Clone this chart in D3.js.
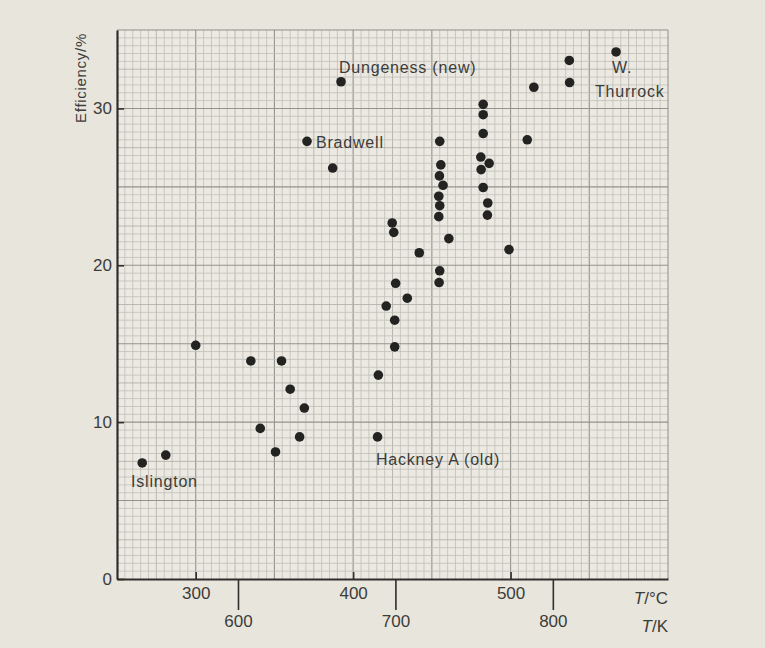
<!DOCTYPE html>
<html>
<head>
<meta charset="utf-8">
<script src="https://cdn.jsdelivr.net/npm/d3@7/dist/d3.min.js"></script>
<style>
  html, body { margin: 0; padding: 0; background: #e8e5dc; }
  svg { display: block; }
  text { font-family: "Liberation Sans", Arial, Helvetica, sans-serif; fill: #3c3c3a; }
</style>
</head>
<body>
<svg id="chart" width="765" height="648"></svg>
<script>
// Temperature (°C) of each power station
const tempC = [266, 281, 300, 335, 354.5, 341, 350.7, 360, 369, 366,
  415.5, 416, 421, 426.4, 426.4, 427, 434.4, 424.8, 425.8, 442,
  460.8, 455, 454.6, 370.7, 387, 392.3,
  455, 455.7, 454.8, 457.1, 454.4, 455, 454.4,
  482.6, 482.6, 482.6, 481.1, 486.4, 481.3, 482.6, 485.5, 485.3,
  499, 510.6, 514.8, 537.3, 537.5, 567];
// Efficiency (%)
const efficiency = [7.4, 7.9, 14.9, 13.9, 13.9, 9.6, 8.1, 12.1, 10.9, 9.06,
  9.06, 13.0, 17.4, 16.5, 14.8, 18.85, 17.9, 22.7, 22.1, 20.8,
  21.7, 19.65, 18.9, 27.9, 26.2, 31.7,
  27.9, 26.4, 25.7, 25.1, 24.4, 23.8, 23.1,
  30.26, 29.6, 28.4, 26.9, 26.5, 26.1, 24.96, 23.97, 23.2,
  21.0, 28.0, 31.35, 33.06, 31.65, 33.6];

// Station names written beside points (anchored in data units)
const labelText = ["Dungeness (new)", "Bradwell", "W.", "Thurrock", "Islington", "Hackney A (old)"];
const labelT = [391, 376.4, 564.4, 553.6, 258.9, 414.5];
const labelE = [32.6, 27.86, 32.6, 31.1, 6.25, 7.65];

const yTicks = [0, 10, 20, 30];
const cTicks = [300, 400, 500];
const kTicks = [600, 700, 800];

(function () {
const svg = d3.select("#chart");
const pL = 117, pR = 668, pT = 30, pB = 579;

const x = d3.scaleLinear().domain([250, 600]).range([pL, pR]);
const y = d3.scaleLinear().domain([0, 35]).range([pB, pT]);
const xK = d3.scaleLinear().domain([250 + 273.15, 600 + 273.15]).range([pL, pR]);

// graph paper
const g = svg.append("g");
g.append("rect").attr("x", pL).attr("y", pT).attr("width", pR - pL).attr("height", pB - pT)
  .attr("fill", "#ebe9e1");
const minorX = d3.range(255, 600, 5);
const minorY = d3.range(0.5, 35, 0.5);
g.selectAll(".mx").data(minorX).join("line")
  .attr("x1", d => x(d)).attr("x2", d => x(d)).attr("y1", pT).attr("y2", pB)
  .attr("stroke", d => d % 50 === 0 ? "#94938c" : (d % 25 === 0 ? "#adaca5" : "#c0bfb8"))
  .attr("stroke-width", d => d % 50 === 0 ? 1.1 : 0.8);
g.selectAll(".my").data(minorY).join("line")
  .attr("x1", pL).attr("x2", pR).attr("y1", d => y(d)).attr("y2", d => y(d))
  .attr("stroke", d => d % 5 === 0 ? "#94938c" : (d % 2.5 === 0 ? "#adaca5" : "#c0bfb8"))
  .attr("stroke-width", d => d % 5 === 0 ? 1.1 : 0.8);
g.append("line").attr("x1", pL).attr("x2", pR).attr("y1", pT).attr("y2", pT).attr("stroke", "#8f8e88");
g.append("line").attr("x1", pR).attr("x2", pR).attr("y1", pT).attr("y2", pB).attr("stroke", "#8f8e88");

const font = "'Liberation Sans', Arial, sans-serif";

// Y axis
const yAxis = d3.axisLeft(y).tickValues(yTicks).tickSizeInner(-7).tickSizeOuter(0).tickPadding(5);
const ya = svg.append("g").attr("transform", `translate(${pL},0)`).call(yAxis);
ya.select(".domain").attr("stroke", "#2e2e2c").attr("stroke-width", 2.2);
ya.selectAll(".tick line").attr("stroke", "#2e2e2c").attr("stroke-width", 1.6);
ya.selectAll(".tick text").attr("font-size", 17).attr("fill", "#3c3c3a").style("font-family", font);

// X axis (°C)
const xAxis = d3.axisBottom(x).tickValues(cTicks).tickSizeInner(-7).tickSizeOuter(0).tickPadding(8);
const xa = svg.append("g").attr("transform", `translate(0,${pB})`).call(xAxis);
xa.select(".domain").attr("stroke", "#2e2e2c").attr("stroke-width", 2.2);
xa.selectAll(".tick line").attr("stroke", "#2e2e2c").attr("stroke-width", 1.6);
xa.selectAll(".tick text").attr("font-size", 17).attr("fill", "#3c3c3a").style("font-family", font);

// X axis (K)
const kAxis = d3.axisBottom(xK).tickValues(kTicks).tickSizeInner(31).tickSizeOuter(0).tickPadding(5);
const ka = svg.append("g").attr("transform", `translate(0,${pB})`).call(kAxis);
ka.select(".domain").remove();
ka.selectAll(".tick line").attr("stroke", "#2e2e2c").attr("stroke-width", 1.6);
ka.selectAll(".tick text").attr("font-size", 17).attr("fill", "#3c3c3a").style("font-family", font);

// unit labels
const tc = svg.append("text").attr("x", pR).attr("y", 604).attr("text-anchor", "end").attr("font-size", 17);
tc.append("tspan").attr("font-style", "italic").text("T");
tc.append("tspan").text("/°C");
const tk = svg.append("text").attr("x", pR).attr("y", 632).attr("text-anchor", "end").attr("font-size", 17);
tk.append("tspan").attr("font-style", "italic").text("T");
tk.append("tspan").text("/K");

svg.append("text").attr("transform", "translate(86,78) rotate(-90)").attr("text-anchor", "middle")
  .attr("font-size", 15).style("letter-spacing", "0.7px").text("Efficiency/%");

// points
svg.append("g").selectAll("circle").data(tempC.map((t, i) => [t, efficiency[i]])).join("circle")
  .attr("cx", d => x(d[0])).attr("cy", d => y(d[1])).attr("r", 4.8).attr("fill", "#232322");

// station labels
svg.append("g").selectAll("text").data(labelText.map((t, i) => [t, labelT[i], labelE[i]])).join("text")
  .attr("x", d => x(d[1])).attr("y", d => y(d[2])).attr("dy", "0.35em")
  .attr("font-size", 16).style("letter-spacing", "0.8px").text(d => d[0]);
})();
</script>
</body>
</html>
